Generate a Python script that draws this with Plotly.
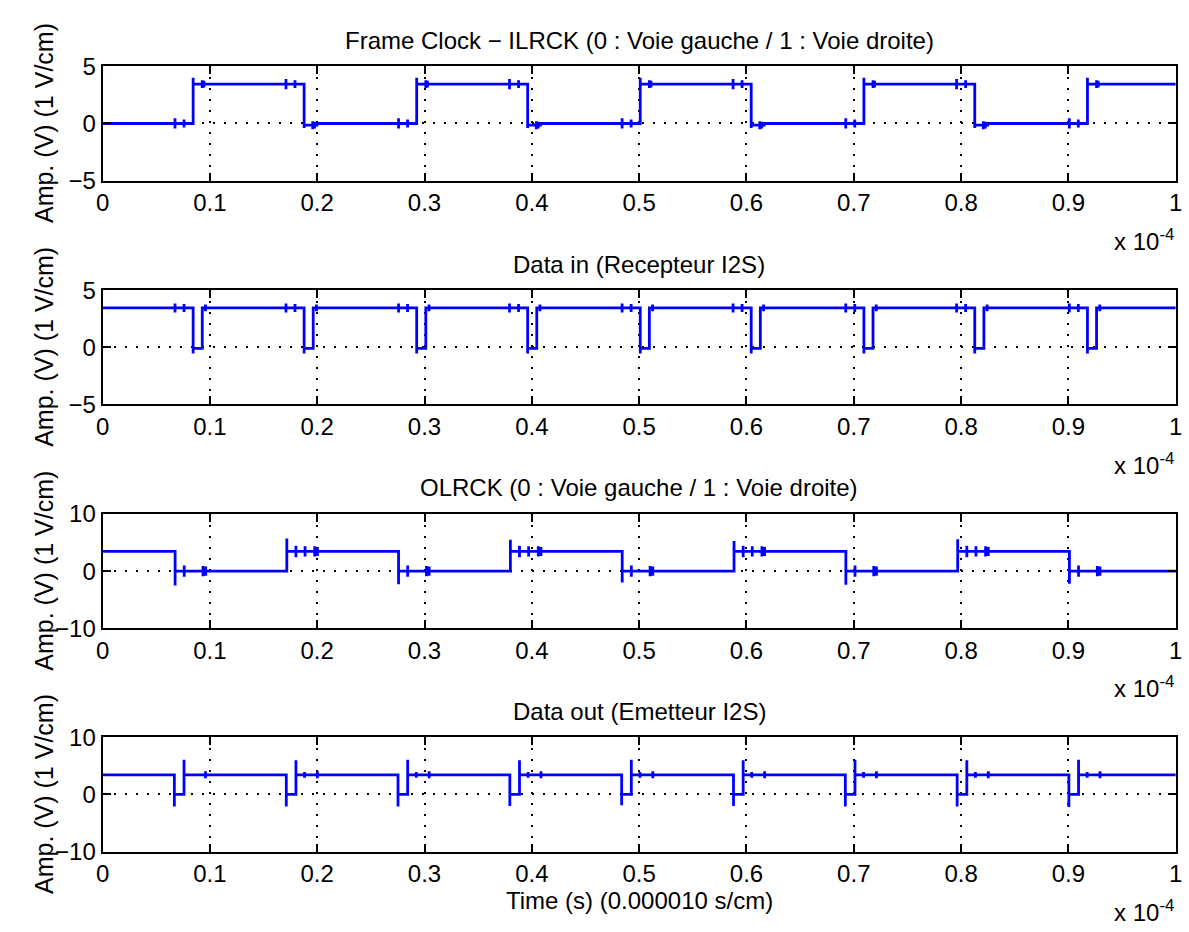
import plotly.graph_objects as go

# ---------------- DATA (time in units of 1e-4 s, amplitude in V) ----------------
# Signal 1 : Frame Clock - ILRCK
ilrck_init = 0.0
ilrck_edge_t = [0.0844, 0.1878, 0.1998, 0.2927, 0.3961, 0.4081, 0.5010, 0.6044, 0.6164,
                0.7094, 0.8127, 0.8247, 0.9177]
ilrck_edge_v = [3.45, -0.15, 0.0, 3.45, -0.15, 0.0, 3.45, -0.15, 0.0, 3.45, -0.15, 0.0, 3.45]
ilrck_edge_pk = [4.0, -0.4, 0.0, 4.0, -0.4, 0.0, 4.0, -0.4, 0.0, 4.0, -0.4, 0.0, 4.0]
ilrck_spike_t = [0.0675, 0.0759, 0.0929, 0.0944, 0.1709, 0.1793, 0.1958, 0.1976,
                 0.2758, 0.2842, 0.3012, 0.3027, 0.3792, 0.3876, 0.4041, 0.4059,
                 0.4841, 0.4925, 0.5095, 0.5110, 0.5875, 0.5959, 0.6124, 0.6142,
                 0.6925, 0.7009, 0.7179, 0.7194, 0.7958, 0.8042, 0.8207, 0.8225,
                 0.9008, 0.9092, 0.9262, 0.9277]
ilrck_spike_a = [0.45, 0.35, 0.35, 0.3, 0.45, 0.35, 0.35, 0.3,
                 0.45, 0.35, 0.35, 0.3, 0.45, 0.35, 0.35, 0.3,
                 0.45, 0.35, 0.35, 0.3, 0.45, 0.35, 0.35, 0.3,
                 0.45, 0.35, 0.35, 0.3, 0.45, 0.35, 0.35, 0.3,
                 0.45, 0.35, 0.35, 0.3]

# Signal 2 : Data in (Recepteur I2S)
din_init = 3.45
din_edge_t = [0.0844, 0.0929, 0.1878, 0.1963, 0.2927, 0.3012, 0.3961, 0.4046, 0.5010, 0.5095,
              0.6044, 0.6129, 0.7094, 0.7179, 0.8127, 0.8212, 0.9177, 0.9262]
din_edge_v = [-0.1, 3.45, -0.1, 3.45, -0.1, 3.45, -0.1, 3.45, -0.1, 3.45,
              -0.1, 3.45, -0.1, 3.45, -0.1, 3.45, -0.1, 3.45]
din_edge_pk = [-0.55, 3.45, -0.55, 3.45, -0.55, 3.45, -0.55, 3.45, -0.55, 3.45,
               -0.55, 3.45, -0.55, 3.45, -0.55, 3.45, -0.55, 3.45]
din_spike_t = [0.0675, 0.0759, 0.0959, 0.1709, 0.1793, 0.1993, 0.2758, 0.2842, 0.3042,
               0.3792, 0.3876, 0.4076, 0.4841, 0.4925, 0.5125, 0.5875, 0.5959, 0.6159,
               0.6925, 0.7009, 0.7209, 0.7958, 0.8042, 0.8242, 0.9008, 0.9092, 0.9292]
din_spike_a = [0.4, 0.35, 0.3, 0.4, 0.35, 0.3, 0.4, 0.35, 0.3,
               0.4, 0.35, 0.3, 0.4, 0.35, 0.3, 0.4, 0.35, 0.3,
               0.4, 0.35, 0.3, 0.4, 0.35, 0.3, 0.4, 0.35, 0.3]

# Signal 3 : OLRCK
olrck_init = 3.45
olrck_edge_t = [0.0676, 0.1717, 0.2758, 0.3800, 0.4842, 0.5884, 0.6926, 0.7968, 0.9009]
olrck_edge_v = [0.0, 3.45, 0.0, 3.45, 0.0, 3.45, 0.0, 3.45, 0.0]
olrck_edge_pk = [-2.5, 5.7, -2.3, 5.5, -2.0, 5.3, -2.4, 5.6, -2.2]
olrck_spike_t = [0.0761, 0.0936, 0.0961, 0.1802, 0.1887, 0.1977, 0.2002, 0.2843, 0.3018,
                 0.3043, 0.3885, 0.3970, 0.4060, 0.4085, 0.4927, 0.5102, 0.5127, 0.5969,
                 0.6054, 0.6144, 0.6169, 0.7011, 0.7186, 0.7211, 0.8053, 0.8138, 0.8228,
                 0.8253, 0.9094, 0.9269, 0.9294]
olrck_spike_a = [1.0, 0.9, 0.8, 1.0, 0.9, 0.9, 0.8, 1.0, 0.9,
                 0.8, 1.0, 0.9, 0.9, 0.8, 1.0, 0.9, 0.8, 1.0,
                 0.9, 0.9, 0.8, 1.0, 0.9, 0.8, 1.0, 0.9, 0.9,
                 0.8, 1.0, 0.9, 0.8]

# Signal 4 : Data out (Emetteur I2S)
dout_init = 3.45
dout_edge_t = [0.0669, 0.0759, 0.1712, 0.1802, 0.2753, 0.2843, 0.3795, 0.3885, 0.4837, 0.4927,
               0.5879, 0.5969, 0.6921, 0.7011, 0.7963, 0.8053, 0.9004, 0.9094]
dout_edge_v = [0.0, 3.45, 0.0, 3.45, 0.0, 3.45, 0.0, 3.45, 0.0, 3.45,
               0.0, 3.45, 0.0, 3.45, 0.0, 3.45, 0.0, 3.45]
dout_edge_pk = [-2.1, 6.1, -2.1, 6.0, -2.1, 6.1, -2.0, 6.0, -1.9, 6.1,
                -2.0, 6.0, -2.1, 6.1, -2.1, 6.0, -2.2, 6.1]
dout_spike_t = [0.0959, 0.1882, 0.2002, 0.2923, 0.3043, 0.3965, 0.4085, 0.5007, 0.5127,
                0.6049, 0.6169, 0.7091, 0.7211, 0.8133, 0.8253, 0.9174, 0.9294]
dout_spike_a = [0.6, 0.5, 0.6, 0.5, 0.6, 0.5, 0.6, 0.5, 0.6,
                0.5, 0.6, 0.5, 0.6, 0.5, 0.6, 0.5, 0.6]

titles = ["Frame Clock \u2212 ILRCK (0 : Voie gauche / 1 : Voie droite)",
          "Data in (Recepteur I2S)",
          "OLRCK (0 : Voie gauche / 1 : Voie droite)",
          "Data out (Emetteur I2S)"]
y_label = "Amp. (V) (1 V/cm)"
x_label = "Time (s) (0.000010 s/cm)"
x_ticks = [0, 0.1, 0.2, 0.3, 0.4, 0.5, 0.6, 0.7, 0.8, 0.9, 1]
y_ticks = [[-5, 0, 5], [-5, 0, 5], [-10, 0, 10], [-10, 0, 10]]
x_range = [0, 1]


def build(init, e_t, e_v, e_pk, s_t, s_a):
    events = [(t, 0, i) for i, t in enumerate(e_t)] + [(t, 1, i) for i, t in enumerate(s_t)]
    events.sort()
    xs, ys, lev = [x_range[0]], [init], init
    for t, kind, i in events:
        if kind == 0:
            xs += [t, t, t]
            ys += [lev, e_pk[i], e_v[i]]
            lev = e_v[i]
        else:
            a = s_a[i]
            xs += [t, t, t, t]
            ys += [lev, lev + a, lev - a, lev]
    xs.append(x_range[1])
    ys.append(lev)
    return xs, ys


signals = [
    build(ilrck_init, ilrck_edge_t, ilrck_edge_v, ilrck_edge_pk, ilrck_spike_t, ilrck_spike_a),
    build(din_init, din_edge_t, din_edge_v, din_edge_pk, din_spike_t, din_spike_a),
    build(olrck_init, olrck_edge_t, olrck_edge_v, olrck_edge_pk, olrck_spike_t, olrck_spike_a),
    build(dout_init, dout_edge_t, dout_edge_v, dout_edge_pk, dout_spike_t, dout_spike_a),
]

# ---------------- LAYOUT ----------------
W, H = 1189, 932
x_left, x_right = 96.7, 1182.7
plot_tops = [54, 284.5, 515, 745]
plot_h = 117.5
FONT = "Liberation Sans, Arial, Helvetica, sans-serif"
FS = 24

fig = go.Figure()
layout = dict(
    width=W, height=H, autosize=False,
    margin=dict(l=0, r=0, t=0, b=0),
    paper_bgcolor="white", plot_bgcolor="white",
    showlegend=False,
    font=dict(family=FONT, size=FS, color="black"),
)
annotations = []
for k in range(4):
    xs, ys = signals[k]
    sfx = "" if k == 0 else str(k + 1)
    fig.add_trace(go.Scatter(x=xs, y=ys, mode="lines",
                             line=dict(color="#0000FF", width=2.8),
                             xaxis="x" + sfx, yaxis="y" + sfx,
                             hoverinfo="skip"))
    top = plot_tops[k]
    bot = top + plot_h
    yd = [1 - bot / H, 1 - top / H]
    common = dict(showline=True, linecolor="black", linewidth=2, mirror="ticks",
                  ticks="inside", ticklen=8, tickwidth=2, tickcolor="black",
                  showgrid=True, gridcolor="black", gridwidth=2, griddash="2px,9px",
                  zeroline=False, ticklabeloverflow="allow",
                  tickfont=dict(family=FONT, size=FS, color="black"))
    layout["xaxis" + sfx] = dict(domain=[x_left / W, x_right / W], range=x_range,
                                 tickvals=x_ticks, anchor="y" + sfx, **common)
    layout["yaxis" + sfx] = dict(domain=yd, range=[y_ticks[k][0], y_ticks[k][-1]],
                                 tickvals=y_ticks[k], anchor="x" + sfx, **common)
    cx = (x_left + x_right) / 2 / W
    annotations.append(dict(text=titles[k], x=cx, y=1 - (top - 27) / H, xref="paper", yref="paper",
                            xanchor="center", yanchor="middle", showarrow=False,
                            font=dict(family=FONT, size=FS, color="black")))
    annotations.append(dict(text=y_label, x=38 / W, y=1 - (top + plot_h / 2) / H,
                            xref="paper", yref="paper", xanchor="center", yanchor="middle",
                            textangle=-90, showarrow=False,
                            font=dict(family=FONT, size=25, color="black")))
    annotations.append(dict(text="x 10<sup>-4</sup>", x=x_right / W, y=1 - (bot + 61) / H,
                            xref="paper", yref="paper", xanchor="right", yanchor="middle",
                            showarrow=False, font=dict(family=FONT, size=FS, color="black")))
annotations.append(dict(text=x_label, x=(x_left + x_right) / 2 / W, y=1 - 913 / H,
                        xref="paper", yref="paper", xanchor="center", yanchor="middle",
                        showarrow=False, font=dict(family=FONT, size=FS, color="black")))
layout["annotations"] = annotations
fig.update_layout(**layout)
fig.write_html("out.html")
